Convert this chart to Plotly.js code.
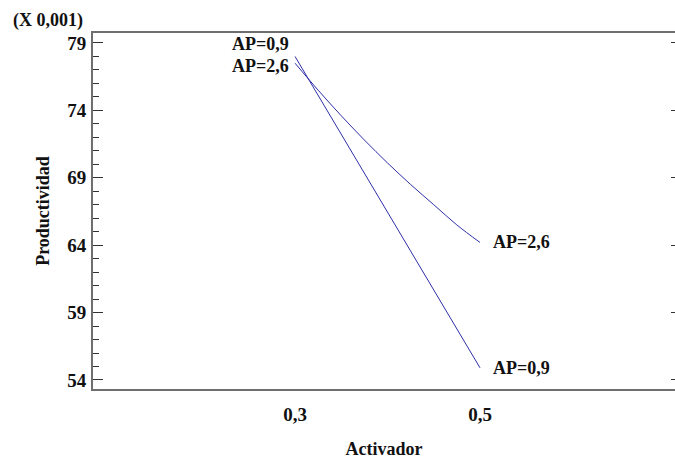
<!DOCTYPE html>
<html>
<head>
<meta charset="utf-8">
<script src="https://cdn.plot.ly/plotly-3.0.1.min.js"></script>
<style>
  html, body { margin: 0; padding: 0; background: #ffffff; }
  #chart { width: 675px; height: 459px; }
</style>
</head>
<body>
<div id="chart"></div>
<script>
// Interaction plot: Productividad (in units of 0,001) against Activador, one line per AP level
const activadorAP09 = [0.3, 0.5];
const productividadAP09 = [78.0, 54.9];

const activadorAP26 = [0.3, 0.325, 0.35, 0.375, 0.4, 0.425, 0.45, 0.475, 0.5];
const productividadAP26 = [77.5, 75.5, 73.6, 71.8, 70.1, 68.5, 67.0, 65.5, 64.2];

const seriesNames = ["AP=0,9", "AP=2,6"];
const xTickVals = [0.3, 0.5];
const xTickText = ["0,3", "0,5"];
const yTickVals = [54, 59, 64, 69, 74, 79];
const yTickText = ["54", "59", "64", "69", "74", "79"];
const scaleNote = "(X 0,001)";
const xTitle = "Activador";
const yTitle = "Productividad";

const serif = "'Liberation Serif', 'Times New Roman', serif";
const lineColor = "#2f2fa8";
const ink = "#111111";

const traces = [
  {
    x: activadorAP09, y: productividadAP09, name: seriesNames[0],
    type: "scatter", mode: "lines",
    line: { color: lineColor, width: 1 }
  },
  {
    x: activadorAP26, y: productividadAP26, name: seriesNames[1],
    type: "scatter", mode: "lines",
    line: { color: lineColor, width: 1, shape: "spline" }
  }
];

const labelFont = { family: serif, size: 18, color: ink, weight: "bold" };

function endLabel(xs, ys, text, atStart, yshift) {
  const i = atStart ? 0 : xs.length - 1;
  return {
    x: xs[i], y: ys[i], xref: "x", yref: "y", text: text,
    showarrow: false, font: labelFont, borderpad: 0,
    xanchor: atStart ? "right" : "left", yanchor: "middle",
    xshift: atStart ? -5 : 12, yshift: yshift
  };
}

const layout = {
  width: 675, height: 459,
  margin: { l: 93, r: 0, t: 33, b: 70 },
  paper_bgcolor: "#ffffff", plot_bgcolor: "#ffffff",
  showlegend: false,
  separators: ",.",
  font: { family: serif, color: ink },
  xaxis: {
    range: [0.0816, 0.7108],
    tickvals: xTickVals, ticktext: xTickText,
    ticks: "", showgrid: false, zeroline: false,
    showline: true, linecolor: "#6e6e6e", linewidth: 2, mirror: true,
    tickfont: { family: serif, size: 19, color: ink, weight: "bold" },
    ticklabelstandoff: 7,
    title: { text: xTitle, font: { family: serif, size: 18, color: ink, weight: "bold" }, standoff: 23 }
  },
  yaxis: {
    range: [53.33, 79.74],
    tickvals: yTickVals, ticktext: yTickText,
    ticks: "inside", ticklen: 10, tickwidth: 1, tickcolor: "#333333",
    minor: { dtick: 1, ticks: "inside", ticklen: 6, tickwidth: 1, tickcolor: "#333333" },
    showgrid: false, zeroline: false,
    showline: true, linecolor: "#6e6e6e", linewidth: 2,
    tickfont: { family: serif, size: 19, color: ink, weight: "bold" },
    ticklabelstandoff: 1,
    title: { text: yTitle, font: { family: serif, size: 18, color: ink, weight: "bold" }, standoff: 13 }
  },
  yaxis2: {
    range: [53.33, 79.74], overlaying: "y", side: "right", anchor: "x",
    tickvals: yTickVals, showticklabels: false,
    ticks: "inside", ticklen: 4, tickwidth: 1, tickcolor: "#333333",
    showgrid: false, zeroline: false, showline: false
  },
  annotations: [
    endLabel(activadorAP09, productividadAP09, seriesNames[0], true, 12),
    endLabel(activadorAP26, productividadAP26, seriesNames[1], true, -3),
    endLabel(activadorAP09, productividadAP09, seriesNames[0], false, 0),
    endLabel(activadorAP26, productividadAP26, seriesNames[1], false, 0),
    {
      x: -0.141, y: 1.035, xref: "paper", yref: "paper", text: scaleNote,
      showarrow: false, xanchor: "left", yanchor: "middle",
      font: { family: serif, size: 18, color: ink, weight: "bold" }
    }
  ]
};

// invisible trace carrying the right-hand tick marks
traces.push({ x: [xTickVals[0]], y: [yTickVals[0]], yaxis: "y2", type: "scatter", mode: "none", hoverinfo: "skip", showlegend: false });

Plotly.newPlot("chart", traces, layout, { staticPlot: true, displayModeBar: false });
</script>
</body>
</html>
